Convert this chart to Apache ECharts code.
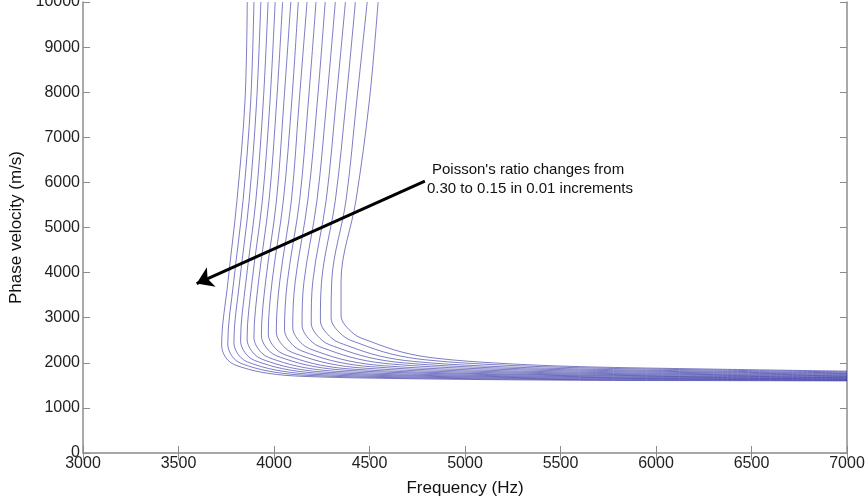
<!DOCTYPE html>
<html>
<head>
<meta charset="utf-8">
<script src="https://cdn.jsdelivr.net/npm/echarts@6/dist/echarts.min.js"></script>
<style>
html,body{margin:0;padding:0;background:#fff;}
#chart{width:867px;height:499px;}
</style>
</head>
<body>
<div id="chart"></div>
<script>
// Poisson's ratio of each curve (leftmost curve = 0.15, rightmost = 0.30)
const poisson = [0.15,0.16,0.17,0.18,0.19,0.20,0.21,0.22,0.23,0.24,0.25,0.26,0.27,0.28,0.29,0.30];

// Frequency (Hz) of each curve at fixed phase velocities on the steep branch
const vSteep = [10000, 7800, 5600, 3800];
const fAt10000 = [3860,3895,3931,3969,4006,4045,4088,4127,4173,4220,4268,4321,4374,4426,4488,4545];
const fAt7800  = [3848,3878,3909,3944,3979,4014,4052,4093,4132,4180,4227,4276,4325,4377,4433,4499];
const fAt5600  = [3806,3838,3870,3905,3939,3974,4013,4049,4091,4134,4177,4225,4273,4321,4377,4429];
const fAt3800  = [3759,3789,3820,3853,3885,3919,3956,3990,4030,4070,4111,4157,4203,4249,4302,4351];

// Knee (lowest frequency) of each curve
const kneeF = [3726,3758,3790,3825,3859,3895,3934,3970,4012,4055,4098,4147,4195,4243,4299,4351];
const kneeV = [2388,2422,2456,2494,2530,2568,2609,2647,2692,2738,2784,2836,2887,2938,2998,3053];

// Bend points
const bend1F = [3759,3792,3826,3863,3899,3936,3977,4014,4058,4104,4149,4200,4250,4301,4360,4414];
const bend1V = [2055,2086,2117,2150,2183,2217,2254,2289,2329,2370,2411,2458,2504,2550,2604,2654];
const bend2F = [3832,3866,3901,3939,3975,4013,4055,4094,4139,4185,4231,4284,4335,4387,4447,4503];
const bend2V = [1900,1929,1959,1992,2023,2056,2092,2125,2163,2203,2243,2288,2332,2376,2428,2476];
const bend3F = [3969,4005,4042,4081,4119,4160,4204,4244,4292,4340,4389,4444,4499,4553,4616,4675];
const bend3V = [1767,1791,1815,1841,1866,1893,1922,1948,1980,2012,2044,2080,2116,2151,2193,2232];
const bend4F = [4147,4183,4220,4259,4297,4338,4382,4422,4470,4518,4567,4622,4677,4731,4794,4853];
const bend4V = [1700,1720,1741,1763,1785,1808,1833,1856,1882,1910,1937,1969,1999,2030,2066,2099];
const bend5F = [4660,4687,4714,4743,4771,4801,4834,4864,4899,4935,4971,5012,5052,5093,5140,5183];
const bend5V = [1650,1667,1685,1704,1722,1742,1763,1782,1805,1828,1852,1878,1904,1930,1961,1989];

// Tail: phase velocity at fixed frequencies
const tailF = [5600, 6300, 7000];
const vAt5600 = [1612,1627,1643,1660,1677,1694,1713,1730,1750,1771,1792,1816,1839,1863,1890,1915];
const vAt6300 = [1605,1618,1631,1646,1659,1674,1690,1704,1722,1739,1757,1777,1796,1816,1839,1860];
const vAt7000 = [1598,1609,1620,1632,1644,1657,1670,1683,1697,1712,1727,1744,1761,1777,1797,1815];

// Annotation arrow (data coordinates: frequency, velocity)
const arrowFrom = [4790, 6030];
const arrowTo = [3595, 3757];
const noteLines = ["Poisson's ratio changes from", "0.30 to 0.15 in 0.01 increments"];

const xTicks = {min: 3000, max: 7000, interval: 500};
const yTicks = {min: 0, max: 10000, interval: 1000};

const series = poisson.map((nu, i) => {
  const pts = [
    [fAt10000[i], vSteep[0]],
    [fAt7800[i], vSteep[1]],
    [fAt5600[i], vSteep[2]],
    [fAt3800[i], vSteep[3]],
    [kneeF[i], kneeV[i]],
    [bend1F[i], bend1V[i]],
    [bend2F[i], bend2V[i]],
    [bend3F[i], bend3V[i]],
    [bend4F[i], bend4V[i]],
    [bend5F[i], bend5V[i]],
    [tailF[0], vAt5600[i]],
    [tailF[1], vAt6300[i]],
    [tailF[2], vAt7000[i]]
  ];
  const s = {
    name: 'ν = ' + nu.toFixed(2),
    type: 'line',
    data: pts,
    smooth: 0.35,
    showSymbol: false,
    symbol: 'none',
    clip: true,
    lineStyle: {color: '#24249c', width: 1, opacity: 0.6},
    silent: true,
    z: 2
  };
  if (i === 0) {
    s.markLine = {
      silent: true,
      symbol: ['none', 'arrow'],
      symbolSize: 16,
      label: {show: false},
      lineStyle: {color: '#000', width: 3, type: 'solid', opacity: 1},
      itemStyle: {color: '#000'},
      data: [[{coord: arrowFrom}, {coord: arrowTo}]],
      z: 5
    };
  }
  return s;
});

const axisColor = '#8c8c8c';
const font = 'Arial, "Liberation Sans", sans-serif';
const plain = v => String(v);

const chart = echarts.init(document.getElementById('chart'), null, {renderer: 'canvas'});
chart.setOption({
  animation: false,
  backgroundColor: '#fff',
  grid: {left: 83, right: 20, top: 2, bottom: 46, outerBoundsMode: 'none', containLabel: false},
  xAxis: [{
    type: 'value', min: xTicks.min, max: xTicks.max, interval: xTicks.interval,
    position: 'bottom',
    name: 'Frequency (Hz)', nameLocation: 'middle', nameGap: 27,
    nameTextStyle: {color: '#111', fontSize: 17, fontFamily: font},
    axisLine: {show: true, lineStyle: {color: axisColor, width: 1.5}},
    axisTick: {show: true, inside: true, length: 7, lineStyle: {color: axisColor}},
    axisLabel: {color: '#222', fontSize: 16, fontFamily: font, margin: 3, formatter: plain},
    splitLine: {show: false}
  }, {
    type: 'value', min: xTicks.min, max: xTicks.max, interval: xTicks.interval,
    position: 'top',
    axisLine: {show: false},
    axisTick: {show: true, inside: true, length: 7, lineStyle: {color: axisColor}},
    axisLabel: {show: false},
    splitLine: {show: false}
  }],
  yAxis: [{
    type: 'value', min: yTicks.min, max: yTicks.max, interval: yTicks.interval,
    position: 'left',
    name: 'Phase velocity (m/s)', nameLocation: 'middle', nameGap: 53, nameRotate: 90,
    nameTextStyle: {color: '#111', fontSize: 17, fontFamily: font},
    axisLine: {show: true, lineStyle: {color: axisColor, width: 1.5}},
    axisTick: {show: true, inside: true, length: 7, lineStyle: {color: axisColor}},
    axisLabel: {color: '#222', fontSize: 16, fontFamily: font, margin: 3, formatter: plain},
    splitLine: {show: false}
  }, {
    type: 'value', min: yTicks.min, max: yTicks.max, interval: yTicks.interval,
    position: 'right',
    axisLine: {show: true, lineStyle: {color: axisColor, width: 1.5}},
    axisTick: {show: true, inside: true, length: 7, lineStyle: {color: axisColor}},
    axisLabel: {show: false},
    splitLine: {show: false}
  }],
  series: series,
  graphic: [{
    type: 'text', left: 432, top: 162, z: 10,
    style: {text: noteLines[0], fill: '#111', font: '15px ' + font}
  }, {
    type: 'text', left: 427, top: 181, z: 10,
    style: {text: noteLines[1], fill: '#111', font: '15px ' + font}
  }]
});
</script>
</body>
</html>
